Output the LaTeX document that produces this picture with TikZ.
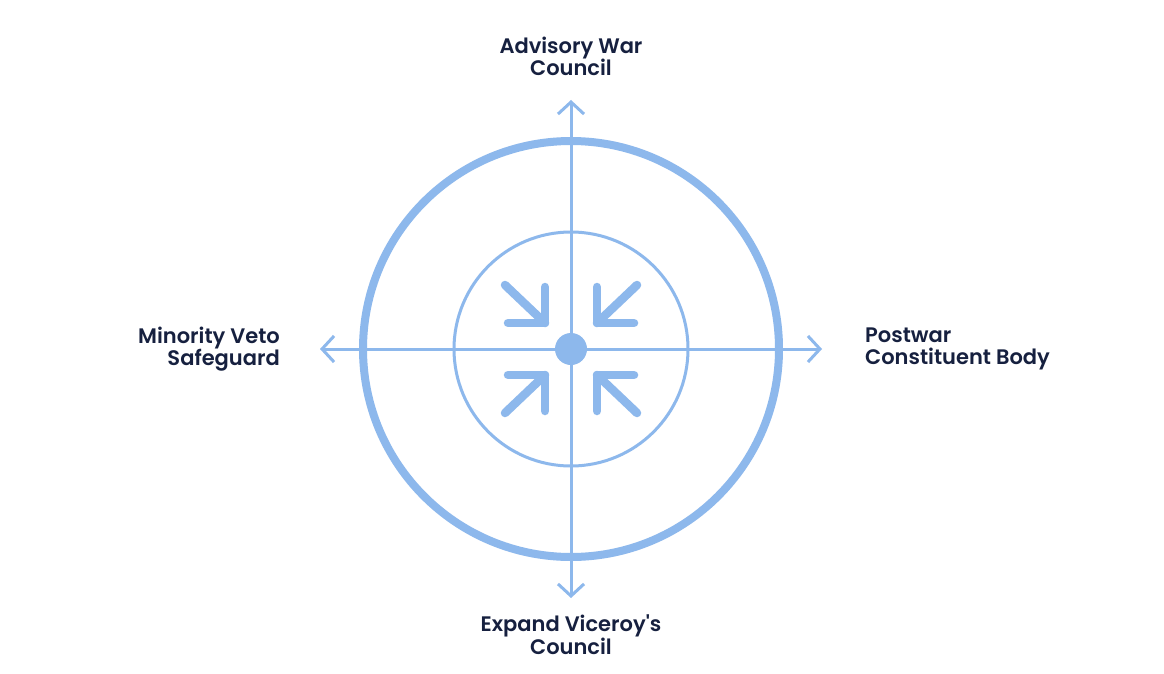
\documentclass[tikz,border=0pt]{standalone}
\usepackage{fontspec}
\setmainfont{Poppins}[BoldFont={* SemiBold}]
\usetikzlibrary{arrows.meta}
\definecolor{lb}{HTML}{8DB8EC}
\definecolor{navy}{HTML}{16203F}
\tikzset{
  axis/.style={draw=lb, line width=3pt, {Straight Barb[length=12pt,width=26pt,line width=3pt]}-{Straight Barb[length=12pt,width=26pt,line width=3pt]}},
  inarrow/.style={draw=lb, line width=8.5pt, line cap=round, line join=round},
  lbl/.style={text=navy, font=\fontsize{21}{22.5}\selectfont\bfseries, inner sep=0pt},
}
\begin{document}
\begin{tikzpicture}[x=1pt,y=-1pt]
\useasboundingbox (0,0) rectangle (1164,674);
\fill[white] (0,0) rectangle (1164,674);
\coordinate (c) at (571,349);
\draw[lb, line width=8pt] (c) circle (208);
\draw[lb, line width=3pt] (c) circle (117);
\coordinate (top) at (571,100);
\coordinate (bot) at (571,598);
\coordinate (lft) at (320,349);
\coordinate (rgt) at (822,349);
\draw[axis] (top) -- (bot);
\draw[axis] (lft) -- (rgt);
\node[circle, fill=lb, minimum size=32pt, inner sep=0pt] (dot) at (c) {};
% inward arrows
\draw[inarrow] (505,285) -- (545,323);
\draw[inarrow] (545,287) -- (545,323) -- (508,323);
\draw[inarrow] (637,285) -- (597,323);
\draw[inarrow] (597,287) -- (597,323) -- (634,323);
\draw[inarrow] (505,413) -- (545,375);
\draw[inarrow] (545,411) -- (545,375) -- (508,375);
\draw[inarrow] (637,413) -- (597,375);
\draw[inarrow] (597,411) -- (597,375) -- (634,375);
% labels
\node[lbl, align=center, anchor=south] (n) at (571,76) {Advisory War\\Council};
\node[lbl, align=center, anchor=north] (s) at (571,615) {Expand Viceroy\textquotesingle s\\Council};
\node[lbl, align=right, anchor=east] (w) at (280,349) {Minority Veto\\Safeguard};
\node[lbl, align=left, anchor=west] (e) at (865,349) {Postwar\\Constituent Body};
\end{tikzpicture}
\end{document}
